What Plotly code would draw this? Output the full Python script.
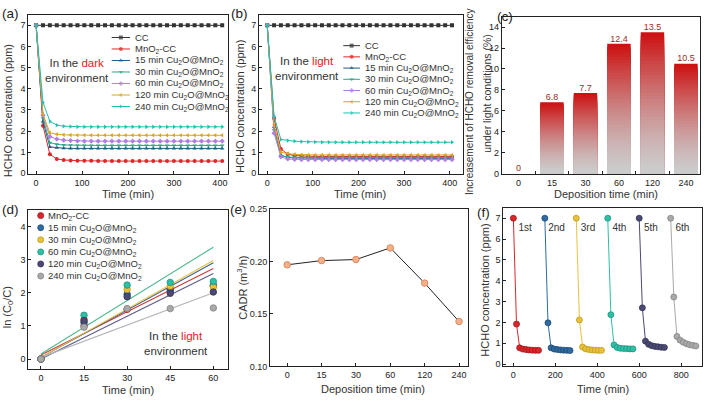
import plotly.graph_objects as go

W, H = 705, 401
FONT = "Liberation Sans, Arial, sans-serif"
INK = "#222222"
TXT = "#333333"

# ---------------- data: (a) dark, (b) light ----------------
time_min = [0, 15, 30, 45, 60, 75, 90, 105, 120, 135, 150, 165, 180, 195,
            210, 225, 240, 255, 270, 285, 300, 315, 330, 345, 360, 375, 390, 405]

curve_names = ["CC", "MnO<sub>2</sub>-CC",
               "15 min Cu<sub>2</sub>O@MnO<sub>2</sub>",
               "30 min Cu<sub>2</sub>O@MnO<sub>2</sub>",
               "60 min Cu<sub>2</sub>O@MnO<sub>2</sub>",
               "120 min Cu<sub>2</sub>O@MnO<sub>2</sub>",
               "240 min Cu<sub>2</sub>O@MnO<sub>2</sub>"]

dark_cc = [7.00, 7.00, 7.00, 7.00, 7.00, 7.00, 7.00, 7.00, 7.00, 7.00, 7.00, 7.00, 7.00, 7.00,
           7.00, 7.00, 7.00, 7.00, 7.00, 7.00, 7.00, 7.00, 7.00, 7.00, 7.00, 7.00, 7.00, 7.00]
dark_mno2 = [7.00, 2.25, 0.90, 0.68, 0.63, 0.61, 0.60, 0.59, 0.59, 0.58, 0.58, 0.58, 0.58, 0.58,
             0.58, 0.58, 0.58, 0.58, 0.58, 0.58, 0.58, 0.58, 0.58, 0.58, 0.58, 0.58, 0.58, 0.58]
dark_15 = [7.00, 2.45, 1.25, 1.21, 1.19, 1.18, 1.18, 1.18, 1.18, 1.18, 1.18, 1.18, 1.18, 1.18,
           1.18, 1.18, 1.18, 1.18, 1.18, 1.18, 1.18, 1.18, 1.18, 1.18, 1.18, 1.18, 1.18, 1.18]
dark_30 = [7.00, 2.60, 1.45, 1.37, 1.34, 1.33, 1.32, 1.32, 1.32, 1.32, 1.32, 1.32, 1.32, 1.32,
           1.32, 1.32, 1.32, 1.32, 1.32, 1.32, 1.32, 1.32, 1.32, 1.32, 1.32, 1.32, 1.32, 1.32]
dark_60 = [7.00, 2.75, 1.74, 1.62, 1.57, 1.55, 1.53, 1.52, 1.52, 1.52, 1.52, 1.52, 1.52, 1.52,
           1.52, 1.52, 1.52, 1.52, 1.52, 1.52, 1.52, 1.52, 1.52, 1.52, 1.52, 1.52, 1.52, 1.52]
dark_120 = [7.00, 2.80, 1.92, 1.85, 1.82, 1.81, 1.80, 1.80, 1.80, 1.80, 1.80, 1.80, 1.80, 1.80,
            1.80, 1.80, 1.80, 1.80, 1.80, 1.80, 1.80, 1.80, 1.80, 1.80, 1.80, 1.80, 1.80, 1.80]
dark_240 = [7.00, 3.35, 2.46, 2.28, 2.23, 2.21, 2.20, 2.20, 2.20, 2.20, 2.20, 2.20, 2.20, 2.20,
            2.20, 2.20, 2.20, 2.20, 2.20, 2.20, 2.20, 2.20, 2.20, 2.20, 2.20, 2.20, 2.20, 2.20]

light_cc = [7.00, 7.00, 7.00, 7.00, 7.00, 7.00, 7.00, 7.00, 7.00, 7.00, 7.00, 7.00, 7.00, 7.00,
            7.00, 7.00, 7.00, 7.00, 7.00, 7.00, 7.00, 7.00, 7.00, 7.00, 7.00, 7.00, 7.00, 7.00]
light_mno2 = [7.00, 2.60, 1.15, 0.90, 0.84, 0.82, 0.80, 0.80, 0.80, 0.80, 0.80, 0.80, 0.80, 0.80,
              0.80, 0.80, 0.80, 0.80, 0.80, 0.80, 0.80, 0.80, 0.80, 0.80, 0.80, 0.80, 0.80, 0.80]
light_15 = [7.00, 2.20, 0.85, 0.76, 0.73, 0.72, 0.71, 0.71, 0.71, 0.71, 0.71, 0.71, 0.71, 0.71,
            0.71, 0.71, 0.71, 0.71, 0.71, 0.71, 0.71, 0.71, 0.71, 0.71, 0.71, 0.71, 0.71, 0.71]
light_30 = [7.00, 2.05, 0.83, 0.77, 0.75, 0.75, 0.75, 0.75, 0.75, 0.75, 0.75, 0.75, 0.75, 0.75,
            0.75, 0.75, 0.75, 0.75, 0.75, 0.75, 0.75, 0.75, 0.75, 0.75, 0.75, 0.75, 0.75, 0.75]
light_60 = [7.00, 1.90, 0.78, 0.68, 0.66, 0.65, 0.65, 0.65, 0.65, 0.65, 0.65, 0.65, 0.65, 0.65,
            0.65, 0.65, 0.65, 0.65, 0.65, 0.65, 0.65, 0.65, 0.65, 0.65, 0.65, 0.65, 0.65, 0.65]
light_120 = [7.00, 2.30, 1.00, 0.93, 0.90, 0.88, 0.87, 0.87, 0.87, 0.87, 0.87, 0.87, 0.87, 0.87,
             0.87, 0.87, 0.87, 0.87, 0.87, 0.87, 0.87, 0.87, 0.87, 0.87, 0.87, 0.87, 0.87, 0.87]
light_240 = [7.00, 2.70, 1.60, 1.55, 1.52, 1.50, 1.49, 1.48, 1.47, 1.47, 1.47, 1.47, 1.47, 1.47,
             1.47, 1.47, 1.47, 1.47, 1.47, 1.47, 1.47, 1.47, 1.47, 1.47, 1.47, 1.47, 1.47, 1.47]

# ---------------- data: (c) ----------------
deposition_labels = ["0", "15", "30", "60", "120", "240"]
increase_pct = [0.0, 6.8, 7.7, 12.4, 13.5, 10.5]
increase_text = ["0", "6.8", "7.7", "12.4", "13.5", "10.5"]

# ---------------- data: (d) ----------------
kin_names = curve_names[1:]
kin_time = [0, 15, 30, 45, 60]
kin_mno2 = [0.0, 1.00, 1.50, 2.10, 2.20]
kin_15 = [0.0, 1.10, 1.95, 2.05, 2.22]
kin_30 = [0.0, 1.20, 2.10, 2.20, 2.17]
kin_60 = [0.0, 1.32, 2.23, 2.31, 2.34]
kin_120 = [0.0, 1.16, 1.88, 1.98, 2.02]
kin_240 = [0.0, 0.96, 1.52, 1.52, 1.54]
fit_range = [0, 60]
fit_intercept = [0.12, 0.05, 0.05, 0.15, 0.00, 0.05]
fit_slope = [0.0435, 0.0475, 0.0487, 0.0537, 0.0430, 0.0325]

# ---------------- data: (e) ----------------
cadr = [0.1967, 0.2007, 0.2017, 0.2128, 0.1793, 0.1428]

# ---------------- data: (f) ----------------
cycle_labels = ["1st", "2nd", "3rd", "4th", "5th", "6th"]
cycle_start = [0, 150, 300, 450, 600, 750]
cycle_time = [0, 15, 30, 45, 60, 75, 90, 105, 120]
cycle_values = [
    [7.00, 1.92, 0.78, 0.72, 0.70, 0.68, 0.67, 0.66, 0.66],
    [7.00, 1.98, 0.78, 0.72, 0.70, 0.68, 0.67, 0.66, 0.65],
    [7.00, 2.12, 0.82, 0.73, 0.70, 0.68, 0.67, 0.66, 0.66],
    [7.00, 2.37, 0.92, 0.80, 0.76, 0.75, 0.74, 0.73, 0.73],
    [7.00, 2.70, 1.10, 0.95, 0.88, 0.85, 0.83, 0.81, 0.80],
    [7.00, 3.22, 1.33, 1.15, 1.05, 0.98, 0.93, 0.90, 0.87],
]
cycle_label_y = 6.5
cycle_label_offset = 56

# ---------------- styles ----------------
curve_symbols = ["square", "circle", "triangle-up", "triangle-down", "diamond",
                 "triangle-left", "triangle-right"]
curve_colors = ["#333333", "#e0262b", "#1f5c80", "#2aa889", "#b27fe0", "#d9a520", "#1fc2b0"]
ball_colors = ["#d9262b", "#2f6aa0", "#e8c23a", "#2ebfa5", "#4b4a72", "#a9a9a9"]
ball_edges = ["#a01818", "#1e4a75", "#c29a20", "#1f9480", "#333355", "#858585"]
fit_colors = ["#cc3b3b", "#3a5e96", "#e6c340", "#4cb98a", "#5b5b85", "#b4b4bc"]

fig = go.Figure()


def dom_x(l, r):
    return [l / W, r / W]


def dom_y(t, b):
    return [1 - b / H, 1 - t / H]


# ---------- (a) & (b) ----------
dark_sets = [dark_cc, dark_mno2, dark_15, dark_30, dark_60, dark_120, dark_240]
light_sets = [light_cc, light_mno2, light_15, light_30, light_60, light_120, light_240]
for axn, sets in (("", dark_sets), ("2", light_sets)):
    for name, vals, sym, col in zip(curve_names, sets, curve_symbols, curve_colors):
        fig.add_trace(go.Scatter(
            x=time_min, y=vals, mode="lines+markers", name=name,
            line=dict(color=col, width=1),
            marker=dict(symbol=sym, size=4, color=col, line=dict(width=0)),
            xaxis="x" + axn, yaxis="y" + axn, showlegend=False))

# ---------- (c) gradient bars ----------
N_SEG = 40
red = (204, 18, 18)
gray = (205, 205, 205)
for i in range(N_SEG):
    frac = (N_SEG - i) / N_SEG
    t = frac ** 1.4
    col = "rgb(%d,%d,%d)" % tuple(int(g + (r - g) * t) for r, g in zip(red, gray))
    fig.add_trace(go.Bar(
        x=deposition_labels, y=[v * frac for v in increase_pct], width=0.7,
        marker=dict(color=col, line=dict(width=0)),
        xaxis="x3", yaxis="y3", showlegend=False))
fig.add_trace(go.Scatter(
    x=deposition_labels, y=increase_pct, text=increase_text, mode="text",
    textposition="top center", textfont=dict(size=9, color="#9c2b2b", family=FONT),
    xaxis="x3", yaxis="y3", showlegend=False))

# ---------- (d) ----------
kin_sets = [kin_mno2, kin_15, kin_30, kin_60, kin_120, kin_240]
for b, s, col in zip(fit_intercept, fit_slope, fit_colors):
    fig.add_trace(go.Scatter(
        x=fit_range, y=[b + s * xx for xx in fit_range], mode="lines",
        line=dict(color=col, width=1.1), xaxis="x4", yaxis="y4", showlegend=False))
for vals, col, edge in zip(kin_sets, ball_colors, ball_edges):
    fig.add_trace(go.Scatter(
        x=kin_time, y=vals, mode="markers",
        marker=dict(size=6.5, color=col, line=dict(color=edge, width=0.8)),
        xaxis="x4", yaxis="y4", showlegend=False))

# ---------- (e) ----------
fig.add_trace(go.Scatter(
    x=deposition_labels, y=cadr, mode="lines+markers",
    line=dict(color="#222222", width=1),
    marker=dict(size=6.5, color="#f4b088", line=dict(color="#dd8a62", width=1)),
    xaxis="x5", yaxis="y5", showlegend=False))

# ---------- (f) ----------
for st, vals, col, edge in zip(cycle_start, cycle_values, ball_colors, ball_edges):
    fig.add_trace(go.Scatter(
        x=[st + tt for tt in cycle_time], y=vals, mode="lines+markers",
        line=dict(color=col, width=1),
        marker=dict(size=6, color=col, line=dict(color=edge, width=0.8)),
        xaxis="x6", yaxis="y6", showlegend=False))
fig.add_trace(go.Scatter(
    x=[st + cycle_label_offset for st in cycle_start],
    y=[cycle_label_y] * len(cycle_start), text=cycle_labels, mode="text",
    textposition="middle center", textfont=dict(size=10, color=TXT, family=FONT),
    xaxis="x6", yaxis="y6", showlegend=False))

# ---------- custom legends (pixel overlay axis x7/y7) ----------
annotations = []


def pix_text(x, y, text, size=9.5, xanchor="left", angle=0, color=TXT):
    annotations.append(dict(
        x=x, y=y, xref="x7", yref="y7", text=text, showarrow=False,
        xanchor=xanchor, yanchor="middle", textangle=angle,
        font=dict(size=size, color=color, family=FONT)))


LEG_AB = [dict(x0=111.7, x1=130.0, tx=132.5, y0=33.3, dy=11.8),
          dict(x0=343.3, x1=360.0, tx=362.5, y0=41.7, dy=11.5)]
for lg in LEG_AB:
    for k, (name, sym, col) in enumerate(zip(curve_names, curve_symbols, curve_colors)):
        yy = lg["y0"] + k * lg["dy"]
        xm = (lg["x0"] + lg["x1"]) / 2
        fig.add_trace(go.Scatter(
            x=[lg["x0"], xm, lg["x1"]], y=[yy, yy, yy], mode="lines+markers",
            line=dict(color=col, width=1),
            marker=dict(symbol=sym, size=[0, 4, 0], color=col, line=dict(width=0)),
            xaxis="x7", yaxis="y7", showlegend=False))
        pix_text(lg["tx"], yy, name)

LEG_D = dict(mx=40.7, tx=45.5, y0=216.0, dy=12.4)
for k, (name, col, edge) in enumerate(zip(kin_names, ball_colors, ball_edges)):
    yy = LEG_D["y0"] + k * LEG_D["dy"]
    fig.add_trace(go.Scatter(
        x=[LEG_D["mx"]], y=[yy], mode="markers",
        marker=dict(size=6, color=col, line=dict(color=edge, width=0.8)),
        xaxis="x7", yaxis="y7", showlegend=False))
    pix_text(LEG_D["tx"], yy, name)

# environment notes
pix_text(76.7, 67.3, "In the <span style='color:#e02020'>dark</span><br>environment",
         size=11.5, xanchor="center")
pix_text(307.0, 65.5, "In the <span style='color:#e02020'>light</span><br>environment",
         size=11.5, xanchor="center")
pix_text(176.0, 347.0, "In the <span style='color:#e02020'>light</span><br>environment",
         size=11.5, xanchor="center")

# axis titles
pix_text(128.0, 194.0, "Time (min)", size=11, xanchor="center")
pix_text(359.5, 194.0, "Time (min)", size=11, xanchor="center")
pix_text(606.0, 194.0, "Deposition time (min)", size=11, xanchor="center")
pix_text(128.3, 394.5, "Time (min)", size=11, xanchor="center")
pix_text(372.5, 394.0, "Deposition time (min)", size=11, xanchor="center")
pix_text(602.5, 394.0, "Time (min)", size=11, xanchor="center")
pix_text(8.0, 109.0, "HCHO concentration (ppm)", size=11, xanchor="center", angle=-90)
pix_text(240.5, 104.0, "HCHO concentration (ppm)", size=11, xanchor="center", angle=-90)
pix_text(469.5, 99.0, "Increasement of HCHO removal efficiency", size=10,
         xanchor="center", angle=-90)
pix_text(487.0, 91.0, "under light conditions (%)", size=10.5, xanchor="center", angle=-90)
pix_text(8.0, 310.0, "ln (C<sub>0</sub>/C)", size=11, xanchor="center", angle=-90)
pix_text(242.0, 290.0, "CADR (m<sup>3</sup>/h)", size=11, xanchor="center", angle=-90)
pix_text(485.0, 293.0, "HCHO concentration (ppm)", size=11, xanchor="center", angle=-90)

# panel labels
for lab, x, y in (("(a)", 10.5, 8.5), ("(b)", 239.5, 8.5), ("(c)", 505.0, 11.5),
                  ("(d)", 10.5, 210.0), ("(e)", 238.0, 210.0), ("(f)", 483.7, 213.0)):
    pix_text(x, y, lab, size=13.5, xanchor="center", color=INK)


def axis(domain, rng, anchor, **kw):
    d = dict(domain=domain, range=rng, anchor=anchor, showline=True, mirror=True,
             linecolor=INK, linewidth=1, ticks="inside", ticklen=3, tickwidth=1,
             tickcolor=INK, showgrid=False, zeroline=False, fixedrange=True,
             tickfont=dict(size=9, color=INK, family=FONT))
    d.update(kw)
    return d


boxes = {
    "a": (28.3, 227.7, 10.0, 173.3),
    "b": (259.0, 462.5, 10.0, 173.3),
    "c": (501.7, 700.0, 12.7, 173.7),
    "d": (28.3, 227.7, 210.0, 373.3),
    "e": (270.0, 468.3, 209.0, 370.7),
    "f": (503.3, 701.7, 208.0, 370.0),
}

lay = dict(
    width=W, height=H, margin=dict(l=0, r=0, t=0, b=0),
    paper_bgcolor="white", plot_bgcolor="rgba(0,0,0,0)",
    barmode="overlay", bargap=0.3, hovermode=False,
    font=dict(family=FONT, color=INK), annotations=annotations,
)
l, r, t, b = boxes["a"]
lay["xaxis"] = axis(dom_x(l, r), [-17, 417], "y", tickvals=[0, 100, 200, 300, 400])
lay["yaxis"] = axis(dom_y(t, b), [-0.03, 7.5], "x", tickvals=[0, 1, 2, 3, 4, 5, 6, 7])
l, r, t, b = boxes["b"]
lay["xaxis2"] = axis(dom_x(l, r), [-18, 428], "y2", tickvals=[0, 100, 200, 300, 400])
lay["yaxis2"] = axis(dom_y(t, b), [-0.03, 7.5], "x2", tickvals=[0, 1, 2, 3, 4, 5, 6, 7])
l, r, t, b = boxes["c"]
lay["xaxis3"] = axis(dom_x(l, r), [-0.5, 5.42], "y3", type="category", tickson="boundaries")
lay["yaxis3"] = axis(dom_y(t, b), [-0.09, 14.93], "x3", tickvals=[0, 2, 4, 6, 8, 10, 12, 14])
l, r, t, b = boxes["d"]
lay["xaxis4"] = axis(dom_x(l, r), [-4.4, 65], "y4", tickvals=[0, 15, 30, 45, 60])
lay["yaxis4"] = axis(dom_y(t, b), [-0.3, 4.5], "x4", tickvals=[0, 1, 2, 3, 4])
l, r, t, b = boxes["e"]
lay["xaxis5"] = axis(dom_x(l, r), [-0.5, 5.27], "y5", type="category")
lay["yaxis5"] = axis(dom_y(t, b), [0.10, 0.25], "x5", tickvals=[0.10, 0.15, 0.20, 0.25],
                     tickformat=".2f")
l, r, t, b = boxes["f"]
lay["xaxis6"] = axis(dom_x(l, r), [-48, 898], "y6", tickvals=[0, 200, 400, 600, 800])
lay["yaxis6"] = axis(dom_y(t, b), [-0.08, 7.5], "x6", tickvals=[0, 1, 2, 3, 4, 5, 6, 7])
lay["xaxis7"] = dict(domain=[0, 1], range=[0, W], anchor="y7", visible=False, fixedrange=True)
lay["yaxis7"] = dict(domain=[0, 1], range=[H, 0], anchor="x7", visible=False, fixedrange=True)

fig.update_layout(**lay)
fig.write_html("out.html",
               config={"displayModeBar": False, "staticPlot": True},
               post_script="document.body.style.margin='0px';"
                           "document.body.style.overflow='hidden';")
